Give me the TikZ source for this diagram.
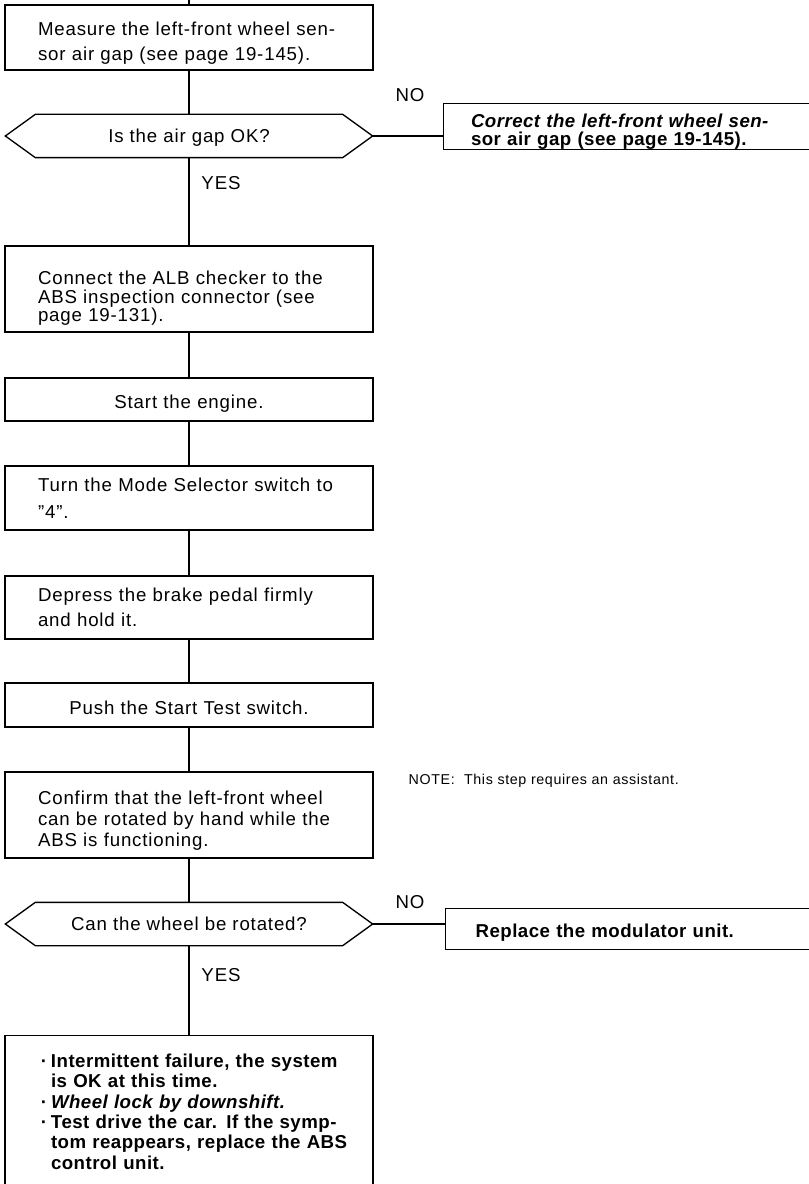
\documentclass[tikz,border=0pt]{standalone}
\usepackage{fontspec}
\setmainfont{Liberation Sans}[LetterSpace=4.5]
\newfontfamily\bfam{Liberation Sans}[LetterSpace=2.5]
\usetikzlibrary{calc}
\newcommand\bul{\leavevmode\llap{\textperiodcentered\hspace{3pt}}}
\newcommand\ml[1]{\mbox{#1}}
\newcommand\tp[1]{\rule{0pt}{\dimexpr 10.3pt+#1\relax}}
\begin{document}
\begin{tikzpicture}[x=0.75pt,y=-0.75pt,line width=1pt,
  every node/.style={font=\fontsize{14}{15.3}\selectfont},
  fs/.style={font=\fontsize{14}{#1}\selectfont},
  bfs/.style={font=\bfam\bfseries\fontsize{14}{#1}\selectfont},
  box/.style={draw, minimum width=276pt, text width=226.5pt, inner xsep=24.75pt, inner ysep=0pt, align=left},
  cbox/.style={box, align=center},
  hexa/.style={minimum width=274.5pt, minimum height=31.5pt, inner sep=0pt, align=center},
  rbox/.style={draw, anchor=north west, minimum width=290pt, inner ysep=0pt, align=left},
  lbl/.style={inner sep=0pt}
]
\useasboundingbox (0,0) rectangle (809,1184);
\clip (0,0) rectangle (809,1184);

\coordinate (start) at (189,-5);
\node[box, fs=18.75pt, minimum height=48.75pt] (b1) at (189,37.5)
  {\ml{\tp{9pt}Measure the left-front wheel sen-}\\\ml{sor air gap (see page 19-145).}};
\node[hexa] (d1) at (189,136) {\tp{3pt}Is the air gap OK?};
\node[box, fs=13.9pt, minimum height=64.5pt] (b2) at (189,289)
  {\ml{\tp{14pt}Connect the ALB checker to the}\\\ml{ABS inspection connector (see}\\\ml{page 19-131).}};
\node[cbox, minimum height=32.25pt] (b3) at (189,399.5) {\tp{6pt}Start the engine.};
\node[box, fs=20pt, minimum height=48pt] (b4) at (189,498)
  {\ml{Turn the Mode Selector switch to}\\\ml{\textquotedblright 4\textquotedblright.}\par\vspace*{14pt}};
\node[box, fs=18.75pt, minimum height=47.25pt] (b5) at (189,607.5)
  {\ml{Depress the brake pedal firmly}\\\ml{and hold it.}\par\vspace*{12pt}};
\node[cbox, minimum height=33pt] (b6) at (189,705) {\tp{4.5pt}Push the Start Test switch.};
\node[box, fs=15.75pt, minimum height=64.5pt] (b7) at (189,815)
  {\ml{\tp{9pt}Confirm that the left-front wheel}\\\ml{can be rotated by hand while the}\\\ml{ABS is functioning.}};
\node[hexa] (d2) at (189,924) {Can the wheel be rotated?};
\node[box, anchor=north, minimum height=114pt, inner xsep=34.5pt, text width=207pt, bfs=15.3pt] (b8) at (189,1035)
  {\ml{\bul Intermittent failure, the system}\\\ml{is OK at this time.}\\\ml{\bul\textit{Wheel lock by downshift.}}\\\ml{\bul Test drive the car. If the symp-}\\\ml{tom reappears, replace the ABS}\\\ml{control unit.}\par\vspace*{3pt}};

\node[rbox, bfs=13.5pt, minimum height=34pt, inner xsep=20.25pt, text width=249pt] (n1) at (443,103)
  {\ml{\tp{7.5pt}\itshape Correct the left-front wheel sen-}\\\ml{sor air gap (see page 19-145).}};
\node[rbox, bfs=15pt, minimum height=30.75pt, inner xsep=22.5pt, text width=245pt] (n2) at (445,908)
  {\ml{\tp{4.5pt}Replace the modulator unit.}};

\node[lbl] (no1) at (410,95) {NO};
\node[lbl] (yes1) at (221,183) {YES};
\node[lbl] (no2) at (410,902) {NO};
\node[lbl] (yes2) at (221,975) {YES};
\node[lbl, anchor=west, fs=13pt, font=\fontsize{10.7}{13}\selectfont] (note) at (408,781) {NOTE:\ \ This step requires an assistant.};

\foreach \d in {d1,d2}{
  \draw (\d.west) -- ([xshift=22.5pt]\d.north west) -- ([xshift=-22.5pt]\d.north east)
    -- (\d.east) -- ([xshift=-22.5pt]\d.south east) -- ([xshift=22.5pt]\d.south west) -- cycle;
}

\draw (start) -- (b1);
\draw (b1) -- (d1);
\draw (d1) -- (b2);
\draw (b2) -- (b3);
\draw (b3) -- (b4);
\draw (b4) -- (b5);
\draw (b5) -- (b6);
\draw (b6) -- (b7);
\draw (b7) -- (d2);
\draw (d2) -- (b8);
\draw (d1.east) -- (d1.east -| n1.west);
\draw (d2.east) -- (d2.east -| n2.west);
\end{tikzpicture}
\end{document}
